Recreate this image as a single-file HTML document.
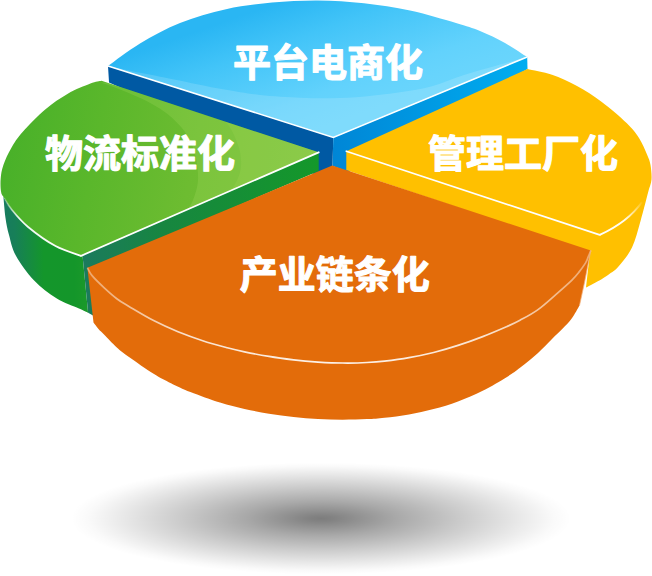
<!DOCTYPE html>
<html lang="zh"><head><meta charset="utf-8"><title>chart</title><style>html,body{margin:0;padding:0;background:#fff}svg{display:block}</style></head><body>
<svg width="652" height="576" viewBox="0 0 652 576">
<defs>
<radialGradient id="sh" cx="0.5" cy="0.5" r="0.5">
<stop offset="0" stop-color="#000" stop-opacity="0.51"/>
<stop offset="0.05" stop-color="#000" stop-opacity="0.49"/>
<stop offset="0.3" stop-color="#000" stop-opacity="0.34"/>
<stop offset="0.55" stop-color="#000" stop-opacity="0.21"/>
<stop offset="0.8" stop-color="#000" stop-opacity="0.085"/>
<stop offset="0.93" stop-color="#000" stop-opacity="0.022"/>
<stop offset="1" stop-color="#000" stop-opacity="0"/>
</radialGradient>
<linearGradient id="gb" gradientUnits="userSpaceOnUse" x1="200" y1="30" x2="243.2" y2="154.8">
<stop offset="0" stop-color="#2ab6f3"/><stop offset="0.3" stop-color="#42c4f8"/><stop offset="0.75" stop-color="#62d2fc"/><stop offset="0.9" stop-color="#67d4fc"/><stop offset="1" stop-color="#69d5fc"/>
</linearGradient>
<linearGradient id="gbr" gradientUnits="userSpaceOnUse" x1="333" y1="0" x2="527" y2="0">
<stop offset="0" stop-color="#0086d6"/><stop offset="1" stop-color="#00adf0"/>
</linearGradient>
<linearGradient id="gg" gradientUnits="userSpaceOnUse" x1="0" y1="130" x2="320" y2="190">
<stop offset="0" stop-color="#47b029"/><stop offset="0.3" stop-color="#5ab72b"/><stop offset="0.6" stop-color="#6dbc31"/><stop offset="1" stop-color="#79c03a"/>
</linearGradient>
<linearGradient id="ggs" gradientUnits="userSpaceOnUse" x1="4" y1="0" x2="92" y2="0">
<stop offset="0" stop-color="#177c5e"/><stop offset="0.12" stop-color="#177f58"/><stop offset="0.45" stop-color="#14962b"/><stop offset="0.8" stop-color="#14962a"/><stop offset="1" stop-color="#1d9a2a"/>
</linearGradient>
<linearGradient id="ggc" gradientUnits="userSpaceOnUse" x1="81" y1="0" x2="319" y2="0">
<stop offset="0" stop-color="#1b7a5e"/><stop offset="0.35" stop-color="#178640"/><stop offset="1" stop-color="#14982a"/>
</linearGradient>
<linearGradient id="gwl" gradientUnits="userSpaceOnUse" x1="4" y1="198" x2="81" y2="256">
<stop offset="0" stop-color="#fff" stop-opacity="0.1"/><stop offset="0.25" stop-color="#fff" stop-opacity="0.9"/><stop offset="1" stop-color="#fff"/>
</linearGradient>
<linearGradient id="owl" gradientUnits="userSpaceOnUse" x1="87" y1="0" x2="591" y2="0">
<stop offset="0" stop-color="#fff" stop-opacity="0.4"/><stop offset="0.2" stop-color="#fff" stop-opacity="0.8"/><stop offset="0.5" stop-color="#fff" stop-opacity="0.92"/><stop offset="0.8" stop-color="#fff" stop-opacity="0.8"/><stop offset="1" stop-color="#fff" stop-opacity="0.4"/>
</linearGradient>
<linearGradient id="ywl" gradientUnits="userSpaceOnUse" x1="600" y1="235" x2="643" y2="201">
<stop offset="0" stop-color="#fff" stop-opacity="1"/><stop offset="0.5" stop-color="#fff" stop-opacity="0.95"/><stop offset="0.75" stop-color="#fff" stop-opacity="0.55"/><stop offset="1" stop-color="#fff" stop-opacity="0"/>
</linearGradient>
</defs>
<rect width="652" height="576" fill="#fff"/>
<ellipse cx="321" cy="518.5" rx="250" ry="56" fill="url(#sh)"/>
<polygon points="108.0,66.0 333.3,137.4 332.5,166.0 316.0,175.0 109.0,82.5" fill="#0059a3"/>
<polygon points="333.3,137.4 527.2,57.0 527.5,69.0 349.0,172.0 332.5,166.0" fill="url(#gbr)"/>
<path d="M108.0,66.0 C113.3,62.2 128.0,50.7 140.0,43.5 C152.0,36.3 165.7,28.7 180.0,23.0 C194.3,17.3 210.7,12.6 226.0,9.2 C241.3,5.8 256.7,4.1 272.0,2.6 C287.3,1.1 302.7,0.3 318.0,0.4 C333.3,0.5 348.7,1.5 364.0,3.2 C379.3,4.9 394.7,7.2 410.0,10.5 C425.3,13.8 444.3,19.6 456.0,23.0 C467.7,26.4 471.8,27.7 480.0,31.0 C488.2,34.3 497.1,38.7 505.0,43.0 C512.9,47.3 523.5,54.7 527.2,57.0 L333.3,137.4 Z" fill="url(#gb)"/>
<clipPath id="cb"><path d="M108.0,66.0 C113.3,62.2 128.0,50.7 140.0,43.5 C152.0,36.3 165.7,28.7 180.0,23.0 C194.3,17.3 210.7,12.6 226.0,9.2 C241.3,5.8 256.7,4.1 272.0,2.6 C287.3,1.1 302.7,0.3 318.0,0.4 C333.3,0.5 348.7,1.5 364.0,3.2 C379.3,4.9 394.7,7.2 410.0,10.5 C425.3,13.8 444.3,19.6 456.0,23.0 C467.7,26.4 471.8,27.7 480.0,31.0 C488.2,34.3 497.1,38.7 505.0,43.0 C512.9,47.3 523.5,54.7 527.2,57.0 L333.3,137.4 Z"/></clipPath>
<path clip-path="url(#cb)" fill="#fff" fill-opacity="0.15" d="M108.0,66.0 C113.3,67.1 129.0,70.6 140.0,72.8 C151.0,75.0 160.2,76.7 174.0,79.4 C187.8,82.2 208.7,86.7 223.0,89.3 C237.3,91.9 247.2,93.6 260.0,95.0 C272.8,96.4 288.2,97.3 300.0,97.8 C311.8,98.3 320.2,98.4 331.0,98.2 C341.8,98.0 353.5,97.5 365.0,96.5 C376.5,95.5 388.8,94.0 400.0,92.3 C411.2,90.6 421.3,89.2 432.0,86.3 C442.7,83.4 453.2,78.5 464.0,75.0 C474.8,71.5 486.5,68.5 497.0,65.5 C507.5,62.5 522.2,58.4 527.2,57.0 L333.3,137.4 Z"/>
<polyline points="108.0,66.0 333.3,137.4 527.2,57.0" fill="none" stroke="#fff" stroke-width="1.6" stroke-linejoin="miter"/>
<path d="M3.4,196.8 C3.8,200.3 4.6,211.6 5.5,218.0 C6.4,224.4 7.3,228.8 9.0,235.0 C10.7,241.2 11.7,247.9 15.8,255.5 C19.9,263.1 27.1,273.2 33.9,280.3 C40.7,287.4 48.9,293.6 56.4,298.3 C63.9,303.0 73.7,306.1 79.0,308.5 C84.3,310.9 86.6,312.0 88.1,312.7 L82.7,257.0 L81.1,255.8 C76.8,254.2 64.4,250.8 55.5,246.0 C46.6,241.2 35.0,232.7 27.8,226.7 C20.6,220.7 15.9,214.8 12.0,210.0 C8.1,205.2 6.0,201.0 4.2,198.0 C2.4,195.0 1.6,193.0 1.1,192.0 Z" fill="url(#ggs)"/>
<polygon points="318.7,152.3 81.1,255.8 82.7,257.0 88.1,312.7 93.0,315.5 93.0,268.0 318.7,171.0" fill="url(#ggc)"/>
<path d="M318.7,152.3 L101.5,80.8 C99.7,81.3 96.0,81.4 90.4,83.6 C84.8,85.8 75.3,89.4 67.8,93.7 C60.3,98.0 52.7,103.1 45.2,109.5 C37.7,115.9 28.3,125.6 22.6,132.0 C16.9,138.4 14.5,142.5 11.3,148.0 C8.1,153.5 5.2,159.8 3.4,164.9 C1.6,170.0 1.1,173.9 0.7,178.4 C0.3,182.9 0.5,188.7 1.1,192.0 C1.7,195.3 2.4,195.0 4.2,198.0 C6.0,201.0 8.1,205.2 12.0,210.0 C15.9,214.8 20.6,220.7 27.8,226.7 C35.0,232.7 46.6,241.2 55.5,246.0 C64.4,250.8 76.8,254.2 81.1,255.8 Z" fill="url(#gg)"/>
<clipPath id="cg"><path d="M318.7,152.3 L101.5,80.8 C99.7,81.3 96.0,81.4 90.4,83.6 C84.8,85.8 75.3,89.4 67.8,93.7 C60.3,98.0 52.7,103.1 45.2,109.5 C37.7,115.9 28.3,125.6 22.6,132.0 C16.9,138.4 14.5,142.5 11.3,148.0 C8.1,153.5 5.2,159.8 3.4,164.9 C1.6,170.0 1.1,173.9 0.7,178.4 C0.3,182.9 0.5,188.7 1.1,192.0 C1.7,195.3 2.4,195.0 4.2,198.0 C6.0,201.0 8.1,205.2 12.0,210.0 C15.9,214.8 20.6,220.7 27.8,226.7 C35.0,232.7 46.6,241.2 55.5,246.0 C64.4,250.8 76.8,254.2 81.1,255.8 Z"/></clipPath>
<path clip-path="url(#cg)" fill="#eaff90" fill-opacity="0.12" d="M100.0,82.5 C101.8,83.1 106.4,84.3 111.0,86.0 C115.6,87.7 121.8,90.0 127.6,92.5 C133.4,95.0 139.9,97.6 146.0,100.8 C152.1,104.0 158.9,107.8 164.4,111.8 C169.9,115.8 175.0,120.4 179.0,124.7 C183.0,129.0 185.6,132.4 188.3,137.6 C191.1,142.8 193.9,148.9 195.5,156.0 C197.1,163.1 198.4,172.7 198.0,180.0 C197.6,187.3 195.0,194.7 193.0,200.0 C191.0,205.3 188.2,208.7 186.0,212.0 C183.8,215.3 181.0,218.7 180.0,220.0 L330,240 L330,90 Z"/>
<path clip-path="url(#cg)" fill="#eaff90" fill-opacity="0.07" d="M200.0,94.0 C202.2,96.6 208.2,104.1 213.0,109.4 C217.8,114.7 224.6,119.9 228.8,125.8 C233.0,131.7 236.0,139.3 238.0,145.0 C240.0,150.7 240.8,155.2 241.0,160.0 C241.2,164.8 241.2,169.0 239.5,174.0 C237.8,179.0 235.1,185.2 231.0,190.0 C226.9,194.8 220.5,199.0 215.0,203.0 C209.5,207.0 200.8,212.2 198.0,214.0 L330,240 L330,90 Z"/>
<path d="M4.2,198.0 C5.5,200.0 8.1,205.2 12.0,210.0 C15.9,214.8 20.6,220.7 27.8,226.7 C35.0,232.7 46.6,241.2 55.5,246.0 C64.4,250.8 76.8,254.2 81.1,255.8" fill="none" stroke="url(#gwl)" stroke-width="1.8"/>
<line x1="81.1" y1="255.8" x2="318.7" y2="152.3" stroke="#fff" stroke-width="1.8" stroke-linecap="round"/>
<path d="M346.3,151.2 L527.5,69.0 C531.6,70.0 543.8,72.0 552.0,74.8 C560.2,77.6 568.7,81.5 577.0,86.0 C585.3,90.5 593.5,95.8 601.8,102.0 C610.1,108.2 620.4,117.0 626.6,123.0 C632.8,129.0 635.6,132.7 639.0,138.0 C642.4,143.3 645.1,150.1 647.0,154.6 C648.9,159.1 649.8,160.8 650.5,165.0 C651.2,169.2 651.8,175.5 651.5,179.5 C651.2,183.5 649.4,187.4 649.0,189.0 C647.6,194.3 643.4,211.0 640.6,220.8 C637.8,230.6 635.6,240.0 632.0,247.6 C628.4,255.2 622.4,262.0 618.7,266.3 C615.0,270.6 612.9,271.5 610.0,273.6 C607.1,275.8 605.6,276.9 601.6,279.2 C597.6,281.5 588.6,286.1 586.0,287.5 L590.0,252.0 L346.3,170.0 Z" fill="#ffc000"/>
<line x1="346.3" y1="151.2" x2="599.7" y2="234.9" stroke="#fff" stroke-width="1.7" stroke-linecap="round"/>
<path d="M599.7,234.9 Q628.0,222.0 642.0,202.0" fill="none" stroke="url(#ywl)" stroke-width="2"/>
<path d="M87.4,267.8 L93.5,322.5 C94.3,323.6 96.7,326.9 98.5,329.0 C100.3,331.1 101.5,331.9 104.5,335.0 C107.5,338.1 112.7,343.7 116.8,347.4 C120.9,351.1 122.9,352.6 129.0,357.0 C135.1,361.4 146.6,369.4 153.6,373.7 C160.6,378.1 164.9,380.2 171.0,383.2 C177.1,386.3 182.2,388.8 190.4,392.0 C198.6,395.2 211.0,399.7 220.0,402.5 C229.0,405.3 236.3,407.0 244.5,408.9 C252.7,410.8 260.8,412.3 269.0,413.7 C277.2,415.0 285.4,416.1 293.6,417.0 C301.8,417.9 309.8,418.5 318.0,419.0 C326.2,419.4 334.5,419.7 342.7,419.7 C350.9,419.7 360.0,419.4 367.0,419.1 C374.0,418.8 377.5,418.5 384.5,417.7 C391.5,417.0 400.8,415.9 409.0,414.4 C417.2,413.0 425.4,411.3 433.6,409.1 C441.8,407.0 449.8,404.5 458.0,401.5 C466.2,398.4 474.5,394.9 482.7,390.8 C490.9,386.7 500.8,380.7 507.0,376.9 C513.2,373.1 514.8,371.8 520.0,367.8 C525.2,363.8 532.7,357.8 538.0,353.0 C543.3,348.2 547.9,343.1 552.0,339.0 C556.1,334.9 559.4,331.9 562.7,328.5 C566.0,325.1 568.9,322.3 571.7,318.5 C574.5,314.7 578.2,307.7 579.5,305.5 L584.4,283 L590.8,250.4 Z" fill="#e36c0a"/>
<path d="M332.3,165.6 L87.4,267.8 C88.2,269.1 89.5,272.5 92.3,275.9 C95.1,279.3 100.4,284.3 104.5,288.1 C108.6,291.9 112.7,295.6 116.8,298.7 C120.9,301.8 122.9,302.8 129.0,306.5 C135.1,310.1 145.4,316.4 153.6,320.6 C161.8,324.8 169.8,328.4 178.0,331.8 C186.2,335.1 194.5,338.1 202.7,340.7 C210.9,343.4 220.2,345.9 227.2,347.8 C234.2,349.6 237.5,350.4 244.5,351.8 C251.5,353.3 260.8,355.1 269.0,356.4 C277.2,357.8 285.4,358.9 293.6,359.9 C301.8,360.8 309.8,361.5 318.0,362.1 C326.2,362.6 334.5,363.0 342.7,363.0 C350.9,363.1 360.0,362.9 367.0,362.5 C374.0,362.2 377.5,362.0 384.5,361.2 C391.5,360.4 400.8,359.2 409.0,357.7 C417.2,356.3 425.4,354.5 433.6,352.5 C441.8,350.4 449.8,348.1 458.0,345.4 C466.2,342.8 474.5,339.8 482.7,336.6 C490.9,333.5 500.8,329.2 507.0,326.5 C513.2,323.7 514.8,323.0 520.0,320.2 C525.2,317.4 531.7,314.2 538.0,309.6 C544.3,305.1 552.2,297.7 557.8,292.8 C563.4,287.9 568.2,283.7 571.7,280.3 C575.2,276.9 576.3,275.5 578.6,272.6 C580.9,269.7 584.0,265.5 585.6,262.9 C587.2,260.2 587.4,258.8 588.3,256.7 C589.2,254.6 590.4,251.4 590.8,250.4 Z" fill="#e36c0a"/>
<path d="M87.4,267.8 C88.2,269.1 89.5,272.5 92.3,275.9 C95.1,279.3 100.4,284.3 104.5,288.1 C108.6,291.9 112.7,295.6 116.8,298.7 C120.9,301.8 122.9,302.8 129.0,306.5 C135.1,310.1 145.4,316.4 153.6,320.6 C161.8,324.8 169.8,328.4 178.0,331.8 C186.2,335.1 194.5,338.1 202.7,340.7 C210.9,343.4 220.2,345.9 227.2,347.8 C234.2,349.6 237.5,350.4 244.5,351.8 C251.5,353.3 260.8,355.1 269.0,356.4 C277.2,357.8 285.4,358.9 293.6,359.9 C301.8,360.8 309.8,361.5 318.0,362.1 C326.2,362.6 334.5,363.0 342.7,363.0 C350.9,363.1 360.0,362.9 367.0,362.5 C374.0,362.2 377.5,362.0 384.5,361.2 C391.5,360.4 400.8,359.2 409.0,357.7 C417.2,356.3 425.4,354.5 433.6,352.5 C441.8,350.4 449.8,348.1 458.0,345.4 C466.2,342.8 474.5,339.8 482.7,336.6 C490.9,333.5 500.8,329.2 507.0,326.5 C513.2,323.7 514.8,323.0 520.0,320.2 C525.2,317.4 531.7,314.2 538.0,309.6 C544.3,305.1 552.2,297.7 557.8,292.8 C563.4,287.9 568.2,283.7 571.7,280.3 C575.2,276.9 576.3,275.5 578.6,272.6 C580.9,269.7 584.0,265.5 585.6,262.9 C587.2,260.2 587.4,258.8 588.3,256.7 C589.2,254.6 590.4,251.4 590.8,250.4" fill="none" stroke="url(#owl)" stroke-width="1.7"/>
<polyline points="590.8,250.4 584.4,283 579.5,305.5" fill="none" stroke="#f3b07a" stroke-opacity="0.7" stroke-width="1.1"/>
<g opacity="0.999">
<text x="328" y="76" font-family="'Liberation Sans','Noto Sans CJK SC',sans-serif" font-weight="700" font-size="38" fill="#fff" stroke="#fff" stroke-width="1.1" stroke-linejoin="round" text-anchor="middle">平台电商化</text>
<text x="140" y="167" font-family="'Liberation Sans','Noto Sans CJK SC',sans-serif" font-weight="700" font-size="38" fill="#fff" stroke="#fff" stroke-width="1.1" stroke-linejoin="round" text-anchor="middle">物流标准化</text>
<text x="523" y="167" font-family="'Liberation Sans','Noto Sans CJK SC',sans-serif" font-weight="700" font-size="38" fill="#fff" stroke="#fff" stroke-width="1.1" stroke-linejoin="round" text-anchor="middle">管理工厂化</text>
<text x="334.8" y="287.8" font-family="'Liberation Sans','Noto Sans CJK SC',sans-serif" font-weight="700" font-size="38" fill="#fff" stroke="#fff" stroke-width="1.1" stroke-linejoin="round" text-anchor="middle">产业链条化</text>
</g>
</svg>
</body></html>
